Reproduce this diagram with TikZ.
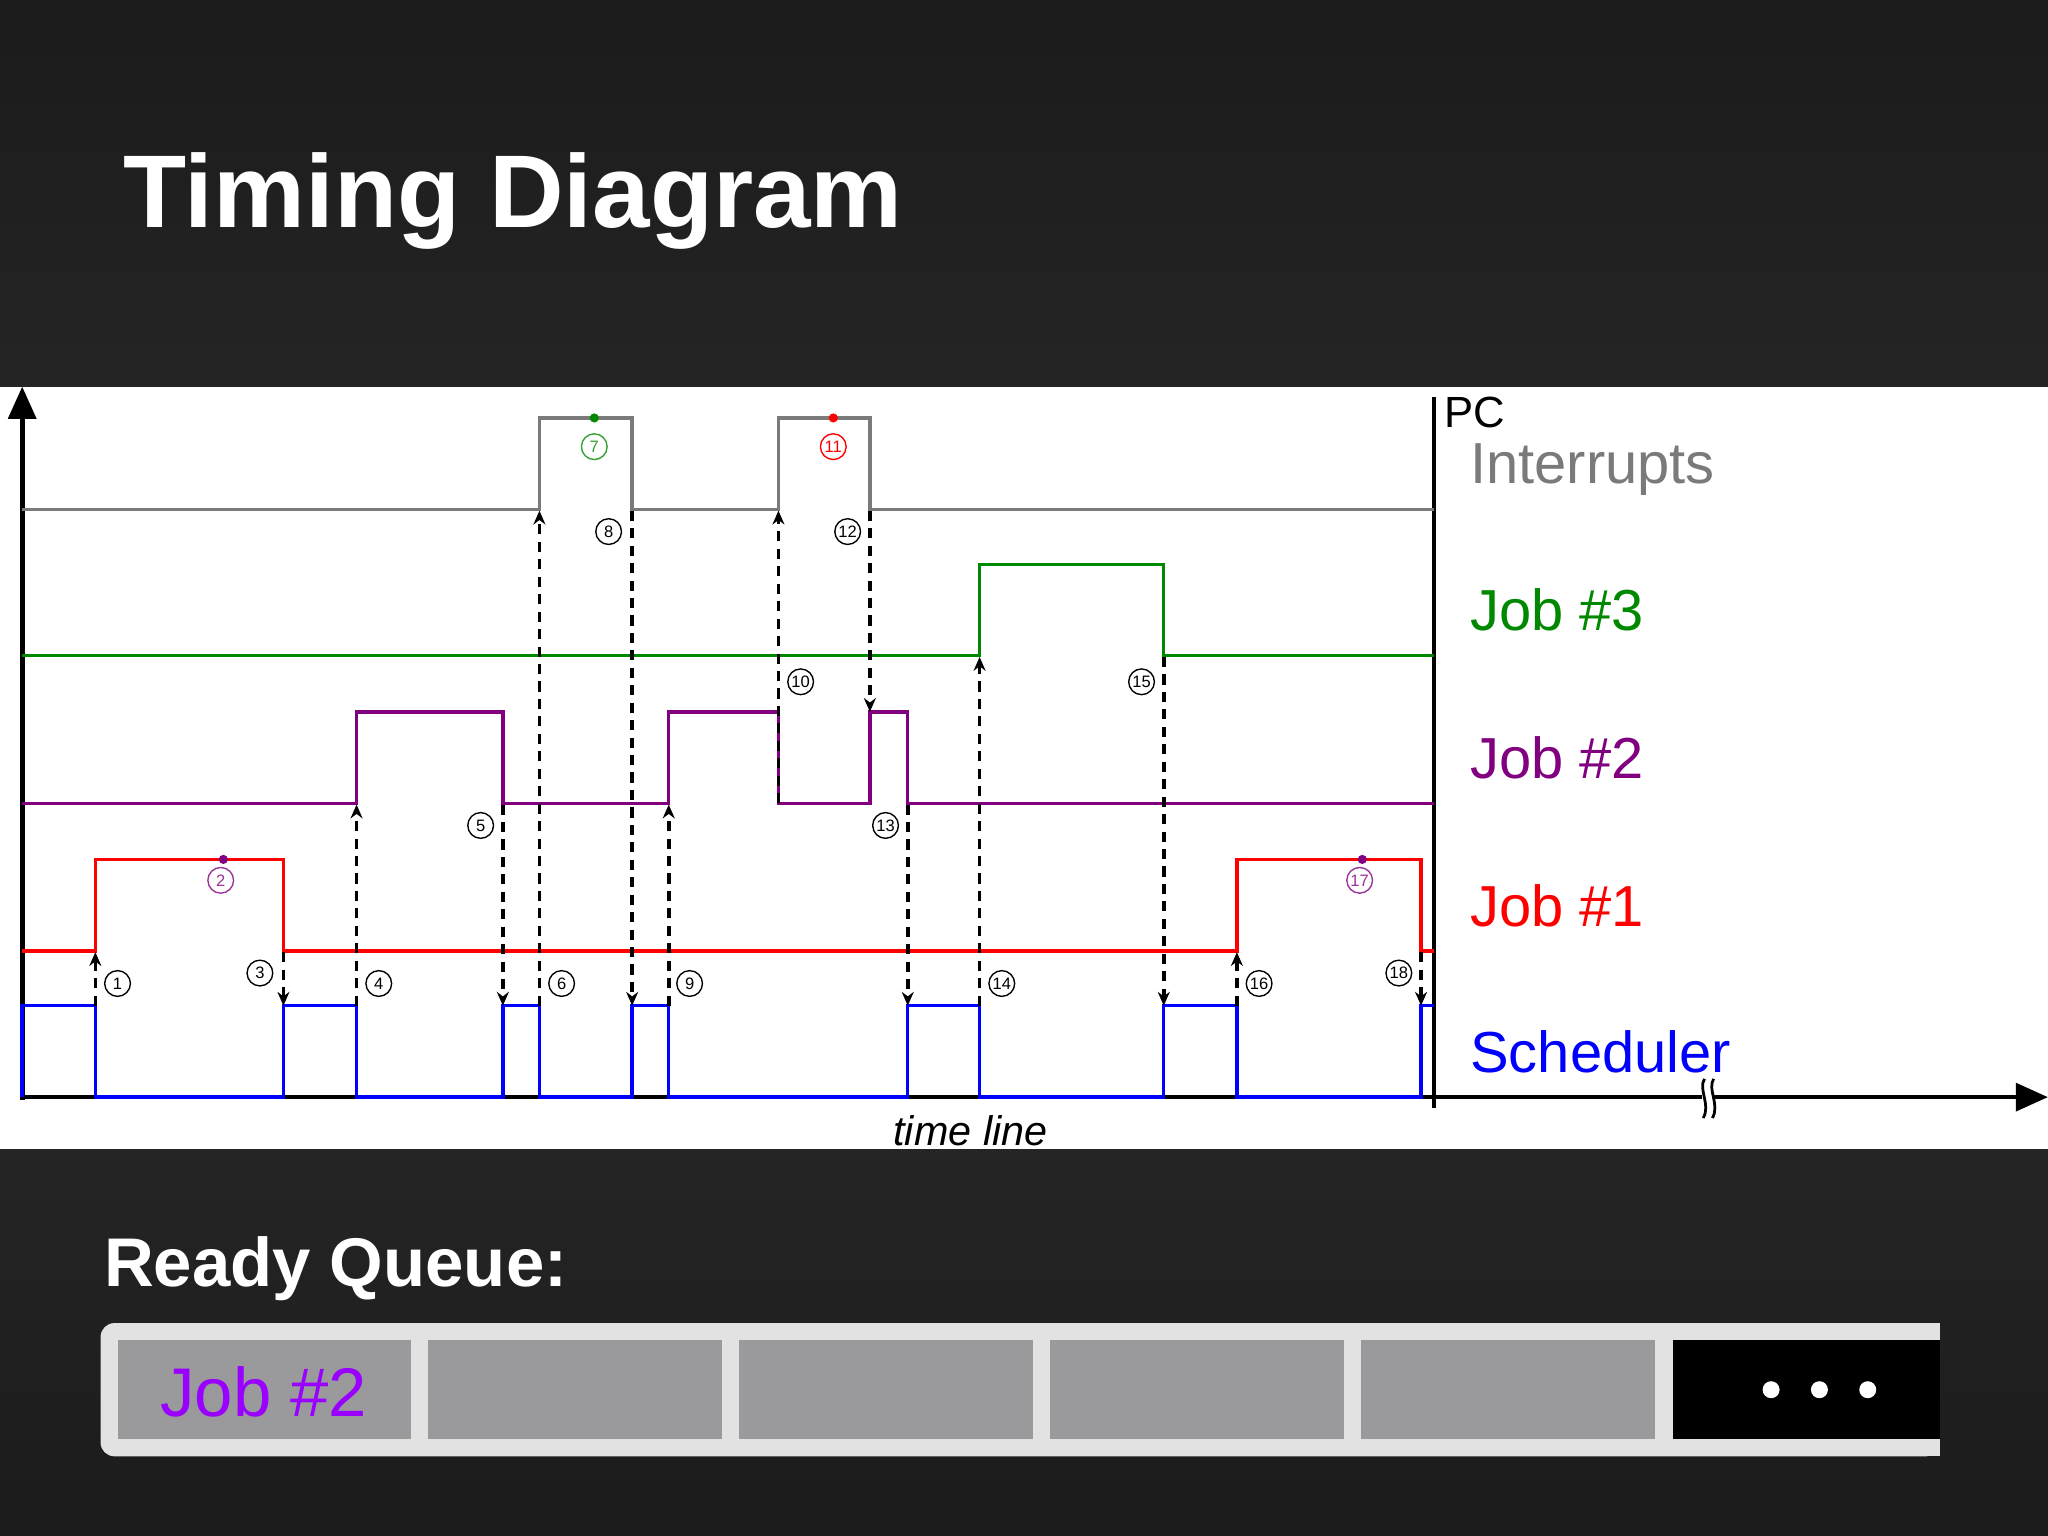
\documentclass[tikz,border=0pt]{standalone}
\usepackage{fontspec}
\setmainfont{Liberation Sans}
\usetikzlibrary{arrows.meta}
\definecolor{bgtop}{HTML}{1B1B1B}
\definecolor{bgbot}{HTML}{2E2E30}
\definecolor{igray}{HTML}{7A7A7A}
\definecolor{jgreen}{HTML}{008800}
\definecolor{jpurple}{HTML}{800080}
\definecolor{jred}{HTML}{FF0000}
\definecolor{jblue}{HTML}{0000FF}
\definecolor{cellgray}{HTML}{9A999B}
\definecolor{bargray}{HTML}{E2E2E2}
\definecolor{qviolet}{HTML}{9900FF}
\tikzset{
  sig/.style={line width=0.75pt},
  dsh/.style={line width=0.8pt, dash pattern=on 2.2pt off 1.6pt, -{Stealth[length=3pt,width=2.6pt]}},
  num/.style={circle, draw, line width=0.3pt, inner sep=0pt, minimum size=5.6pt, font=\fontsize{3.6}{4}\selectfont},
  lab/.style={anchor=base west, font=\fontsize{12.6}{15}\selectfont},
  cell/.style={fill=cellgray, draw=none}
}
\begin{document}
\begin{tikzpicture}[x=0.01cm,y=-0.01cm]
\useasboundingbox (0,0) rectangle (1568,1176);
\shade[top color=bgtop, bottom color=bgbot] (0,0) rectangle (1568,600);
\shade[top color=bgbot, bottom color=bgtop] (0,600) rectangle (1568,1176);
\node[anchor=base west, text=white, font=\fontsize{22.5}{27}\bfseries, inner sep=0] (title) at (94,174) {Timing Diagram};
\fill[white] (0,296) rectangle (1568,880);
% axes
\draw[line width=1pt, -{Triangle[length=7pt,width=6pt]}] (17,842) -- (17,296);
\draw[line width=1pt, -{Triangle[length=7pt,width=6pt]}] (15,840) -- (1568,840);
\draw[line width=1pt] (1098,304) -- (1098,848);
\fill[white] (1303,826) rectangle (1312,856);
\draw[line width=0.6pt] (1305,826) .. controls (1300,834) and (1310,846) .. (1304,856);
\draw[line width=0.6pt] (1312,826) .. controls (1307,834) and (1317,846) .. (1311,856);
\node[anchor=base west, font=\fontsize{9.5}{11}\selectfont, inner sep=0] (pc) at (1105,327) {PC};
\node[lab, text=igray, inner sep=0] (li) at (1125,370) {Interrupts};
\node[lab, text=jgreen, inner sep=0] (l3) at (1125,483) {Job \#3};
\node[lab, text=jpurple, inner sep=0] (l2) at (1125,596) {Job \#2};
\node[lab, text=jred, inner sep=0] (l1) at (1125,709) {Job \#1};
\node[lab, text=jblue, inner sep=0] (ls) at (1125,821) {Scheduler};
\node[font=\fontsize{9}{11}\itshape\selectfont, inner sep=0] (tl) at (743,866) {time line};
% signals
\draw[sig, igray] (17,390) -- (413,390) -- (413,320) -- (484,320) -- (484,390) -- (596,390) -- (596,320) -- (666,320) -- (666,390) -- (1098,390);
\draw[sig, jgreen] (17,502) -- (750,502) -- (750,432) -- (891,432) -- (891,502) -- (1098,502);
\draw[sig, jpurple] (17,615) -- (273,615) -- (273,545) -- (385,545) -- (385,615) -- (512,615) -- (512,545) -- (596,545) -- (596,615) -- (666,615) -- (666,545) -- (695,545) -- (695,615) -- (1098,615);
\draw[sig, jred] (17,728) -- (73,728) -- (73,658) -- (217,658) -- (217,728) -- (947,728) -- (947,658) -- (1088,658) -- (1088,728) -- (1098,728);
\draw[sig, jblue] (17,840) -- (17,770) -- (73,770) -- (73,840) -- (217,840) -- (217,770) -- (273,770) -- (273,840) -- (385,840) -- (385,770) -- (413,770) -- (413,840) -- (484,840) -- (484,770) -- (512,770) -- (512,840) -- (695,840) -- (695,770) -- (750,770) -- (750,840) -- (891,840) -- (891,770) -- (947,770) -- (947,840) -- (1088,840) -- (1088,770) -- (1098,770);
% dashed arrows
\draw[dsh] (73,770) -- (73,729);
\draw[dsh] (217,729) -- (217,770);
\draw[dsh] (273,770) -- (273,616);
\draw[dsh] (385,616) -- (385,770);
\draw[dsh] (413,770) -- (413,391);
\draw[dsh] (484,391) -- (484,770);
\draw[dsh] (512,770) -- (512,616);
\draw[dsh] (596,615) -- (596,391);
\draw[dsh] (666,391) -- (666,545);
\draw[dsh] (695,616) -- (695,770);
\draw[dsh] (750,770) -- (750,503);
\draw[dsh] (891,503) -- (891,770);
\draw[dsh] (947,770) -- (947,729);
\draw[dsh] (1088,729) -- (1088,770);
% numbers
\node[num] (n1) at (90,753) {1};
\node[num, jpurple!80] (n2) at (169,674) {2};
\node[num] (n3) at (199,745) {3};
\node[num] (n4) at (290,753) {4};
\node[num] (n5) at (368,632) {5};
\node[num] (n6) at (430,753) {6};
\node[num, jgreen!80] (n7) at (455,342) {7};
\node[num] (n8) at (466,407) {8};
\node[num] (n9) at (528,753) {9};
\node[num] (n10) at (613,522) {10};
\node[num, jred] (n11) at (638,342) {11};
\node[num] (n12) at (649,407) {12};
\node[num] (n13) at (678,632) {13};
\node[num] (n14) at (767,753) {14};
\node[num] (n15) at (874,522) {15};
\node[num] (n16) at (964,753) {16};
\node[num, jpurple!80] (n17) at (1041,674) {17};
\node[num] (n18) at (1071,745) {18};
\fill[jgreen] (455,320) circle (3.5);
\fill[jred] (638,320) circle (3.5);
\fill[jpurple] (171,658) circle (3.5);
\fill[jpurple] (1043,658) circle (3.5);
% ready queue
\node[anchor=base west, text=white, font=\fontsize{15}{18}\bfseries, inner sep=0] (rq) at (79,985) {Ready Queue:};
\fill[bargray, rounded corners=3pt] (77,1013) rectangle (1485,1115);
\fill[bargray] (1470,1013) rectangle (1485,1115);
\fill[cell] (90,1026) rectangle (315,1102);
\fill[cell] (328,1026) rectangle (553,1102);
\fill[cell] (566,1026) rectangle (791,1102);
\fill[cell] (804,1026) rectangle (1029,1102);
\fill[cell] (1042,1026) rectangle (1267,1102);
\fill[black] (1281,1026) rectangle (1485,1102);
\foreach \x in {1356,1393,1430} \fill[white] (\x,1064) circle (6.5);
\node[text=qviolet, font=\fontsize{15}{18}\selectfont, inner sep=0] (q1) at (202,1066) {Job \#2};
\end{tikzpicture}
\end{document}
